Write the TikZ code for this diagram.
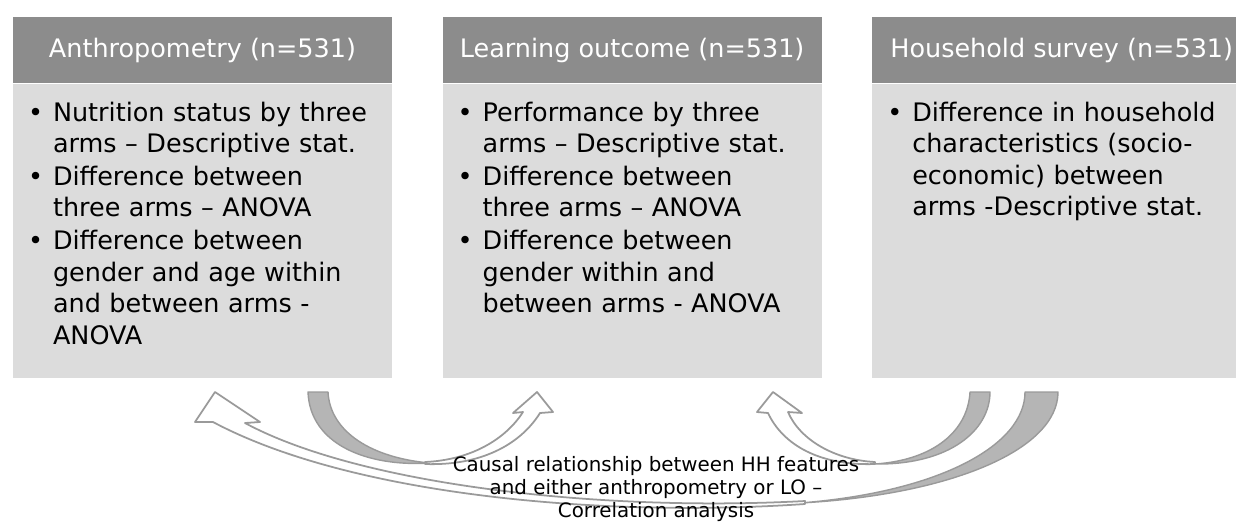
\documentclass[tikz,border=0pt]{standalone}
\usepackage{fontspec}
\setmainfont{DejaVu Sans}
\usetikzlibrary{positioning}
\definecolor{headgray}{HTML}{8C8C8C}
\definecolor{boxgray}{HTML}{DCDCDC}
\definecolor{bandgray}{HTML}{B5B5B5}
\definecolor{edgegray}{HTML}{9A9A9A}
\newcommand{\bpoint}[1]{\noindent\hangindent=0.5cm\hangafter=1\makebox[0.5cm][l]{\textbullet}#1\par}
\begin{document}
\begin{tikzpicture}[x=0.02cm,y=-0.02cm,
  head/.style={fill=headgray,text=white,minimum width=7.58cm,minimum height=1.32cm,inner sep=0pt,font=\fontsize{14.5}{18}\selectfont},
  box/.style={fill=boxgray,minimum width=7.58cm,minimum height=5.88cm,inner sep=0pt},
  list/.style={anchor=north west,text width=7.3cm,align=left,inner sep=0pt,font=\fontsize{14.5}{18}\selectfont\setlength{\parskip}{0.6pt}},
  band/.style={fill=bandgray,draw=edgegray,line width=0.8pt,line join=round},
  hollow/.style={fill=white,draw=edgegray,line width=1pt,line join=round},
  caption/.style={align=center,inner sep=0pt,font=\fontsize{11.3}{13}\selectfont}]
\useasboundingbox (0,0) rectangle (1236,528);
\node[head] (anthro) at (202.5,50) {Anthropometry (n=531)};
\node[head,right=1cm of anthro] (learn) {Learning outcome (n=531)};
\node[head,right=1cm of learn] (house) {Household survey (n=531)};
\node[box,below=0pt of anthro] (anthrobox) {};
\node[box,below=0pt of learn] (learnbox) {};
\node[box,below=0pt of house] (housebox) {};
\node[list] (anthrolist) at ([xshift=0.3cm,yshift=-0.36cm]anthrobox.north west) {%
  \bpoint{Nutrition status by three\newline arms -- Descriptive stat.}
  \bpoint{Difference between\newline three arms -- ANOVA}
  \bpoint{Difference between\newline gender and age within\newline and between arms -\newline ANOVA}};
\node[list] (learnlist) at ([xshift=0.3cm,yshift=-0.36cm]learnbox.north west) {%
  \bpoint{Performance by three\newline arms -- Descriptive stat.}
  \bpoint{Difference between\newline three arms -- ANOVA}
  \bpoint{Difference between\newline gender within and\newline between arms - ANOVA}};
\node[list] (houselist) at ([xshift=0.3cm,yshift=-0.36cm]housebox.north west) {%
  \bpoint{Difference in household\newline characteristics (socio-\newline economic) between\newline arms -Descriptive stat.}};
% household survey -> anthropometry
\draw[band] (1025,392) -- (1058,392) .. controls (1058,450) and (950,495) .. (800,503)
  .. controls (940,492) and (1025,445) .. (1025,392) -- cycle;
\draw[hollow] (805,504) .. controls (600,518) and (350,495) .. (213,422) -- (195,422) -- (215,392)
  -- (260,422) -- (245,423) .. controls (360,485) and (600,512) .. (805,501) -- cycle;
% household survey -> learning outcome
\draw[band] (970,392) -- (990,392) .. controls (990,430) and (950,465) .. (875,464)
  .. controls (935,460) and (968,430) .. (970,392) -- cycle;
\draw[hollow] (875,464) .. controls (820,466) and (783,445) .. (768,413) -- (757,412) -- (773,392)
  -- (802,413) -- (788,412) .. controls (800,440) and (835,460) .. (875,462) -- cycle;
% anthropometry -> learning outcome
\draw[band] (308,392) -- (328,392) .. controls (330,432) and (372,458) .. (430,463)
  .. controls (368,467) and (310,445) .. (308,392) -- cycle;
\draw[hollow] (425,464) .. controls (480,466) and (520,445) .. (540,413) -- (553,412) -- (537,392)
  -- (513,413) -- (523,412) .. controls (505,440) and (470,460) .. (425,462) -- cycle;
\node[caption] (corr) at (656,489) {Causal relationship between HH features\\and either anthropometry or LO --\\Correlation analysis};
\end{tikzpicture}
\end{document}
